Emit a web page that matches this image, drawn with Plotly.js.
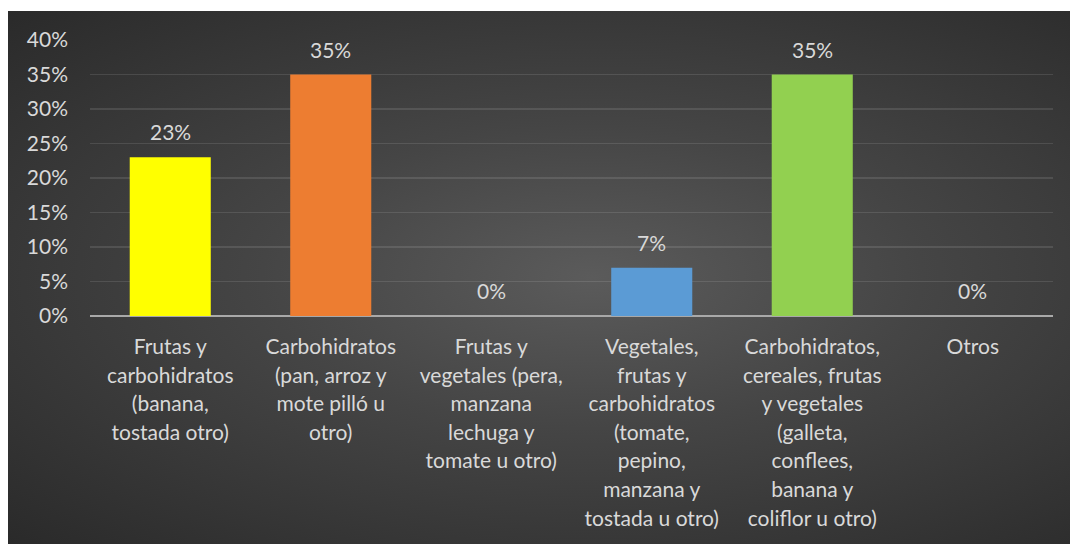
<!DOCTYPE html>
<html>
<head>
<meta charset="utf-8">
<script src="https://cdn.plot.ly/plotly-3.0.1.min.js"></script>
<style>
  html, body { margin: 0; padding: 0; background: #ffffff; width: 1070px; height: 544px; overflow: hidden; }
  #wrap { position: absolute; left: 8px; top: 11px; width: 1062px; height: 533px;
    background: radial-gradient(ellipse farthest-corner at 55% 50%, #5b5b5b 0%, #454545 40%, #2a2a2a 100%); }
  #chart { width: 1062px; height: 533px; }
</style>
</head>
<body>
<div id="wrap"><div id="chart"></div></div>
<script>
const categoryLines = [
  ["Frutas y", "carbohidratos", "(banana,", "tostada otro)"],
  ["Carbohidratos", "(pan, arroz y", "mote pilló u", "otro)"],
  ["Frutas y", "vegetales (pera,", "manzana", "lechuga y", "tomate u otro)"],
  ["Vegetales,", "frutas y", "carbohidratos", "(tomate,", "pepino,", "manzana y", "tostada u otro)"],
  ["Carbohidratos,", "cereales, frutas", "y vegetales", "(galleta,", "conflees,", "banana y", "coliflor u otro)"],
  ["Otros"]
];
const values = [0.23, 0.35, 0.00, 0.07, 0.35, 0.00];
const barColors = ["#FFFF00", "#ED7D31", "#5B9BD5", "#5B9BD5", "#92D050", "#5B9BD5"];

const FONT = 'Lato, "Open Sans", sans-serif';
const xKeys = categoryLines.map((_, i) => "c" + i);
const tickText = categoryLines.map(lines =>
  lines.map(l => '<span style="font-size:21px">' + l + '</span>').join('<br>'));

const trace = {
  type: 'bar',
  x: xKeys,
  y: values,
  marker: { color: barColors, line: { width: 0 } },
  width: 0.505,
  hoverinfo: 'none'
};

const labels = values.map((v, i) => ({
  x: xKeys[i], y: v, xref: 'x', yref: 'y',
  text: Math.round(v * 100) + '%',
  showarrow: false, yanchor: 'bottom', yshift: 11,
  font: { family: FONT, size: 21, color: '#d9d9d9' }
}));

const layout = {
  width: 1062, height: 533,
  margin: { l: 82, r: 17, t: 29, b: 228 },
  paper_bgcolor: 'rgba(0,0,0,0)',
  plot_bgcolor: 'rgba(0,0,0,0)',
  showlegend: false,
  font: { family: FONT, color: '#d9d9d9', size: 21 },
  annotations: labels,
  xaxis: {
    type: 'category',
    tickmode: 'array',
    tickvals: xKeys,
    ticktext: tickText,
    tickfont: { size: 22, color: '#d9d9d9' },
    showgrid: false,
    showline: false,
    zeroline: false,
    ticks: '',
    ticklabelstandoff: 15,
    tickangle: 0
  },
  yaxis: {
    range: [0, 0.4],
    dtick: 0.05,
    tickformat: '.0%',
    tickfont: { size: 21, color: '#d9d9d9' },
    showgrid: true,
    gridcolor: 'rgba(255,255,255,0.11)',
    gridwidth: 1.5,
    zeroline: true,
    zerolinecolor: '#a9a9a9',
    zerolinewidth: 2.5,
    showline: false,
    ticks: '',
    ticklabelstandoff: 21
  },
  bargap: 0.5
};

Plotly.newPlot('chart', [trace], layout, { displayModeBar: false, staticPlot: true });
</script>
</body>
</html>
